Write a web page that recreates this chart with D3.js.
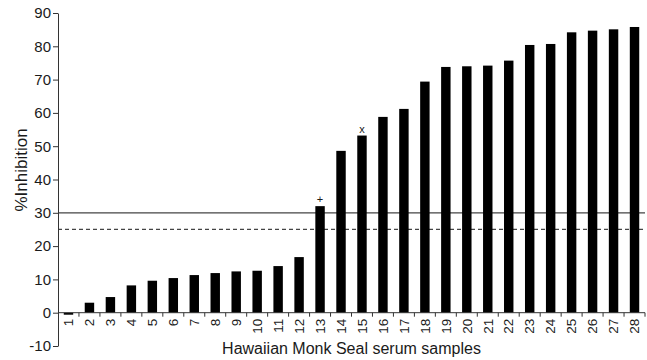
<!DOCTYPE html>
<html>
<head>
<meta charset="utf-8">
<script src="https://cdn.jsdelivr.net/npm/d3@7"></script>
<style>
  body { margin: 0; background: #fff; }
  text { font-family: "Liberation Sans", Arial, Helvetica, sans-serif; fill: #1a1a1a; }
</style>
</head>
<body>
<div id="chart"></div>
<script>
const [svgWidth, svgHeight] = [647, 360];

// data
const samples = d3.range(1, 29);
const inhibition = [-0.6, 3, 4.7, 8.2, 9.6, 10.4, 11.3, 11.9, 12.4, 12.6, 14, 16.7, 32, 48.6,
    53.2, 58.8, 61.2, 69.4, 73.8, 74, 74.2, 75.7, 80.4, 80.7, 84.2, 84.7, 85.1, 85.8];
const yTicks = d3.range(-10, 91, 10);
const thresholds = [
    { value: 30, dash: null },
    { value: 25, dash: '4,3' }
];
const markers = [
    { sample: 13, symbol: '+' },
    { sample: 15, symbol: 'x' }
];

const plot = { left: 58, right: 645, top: 13, bottom: 346 };

let svg = d3.select('#chart').append('svg')
    .attr('width', svgWidth)
    .attr('height', svgHeight);

let xScale = d3.scaleBand()
    .domain(samples)
    .range([plot.left, plot.right])
    .paddingInner(0.55)
    .paddingOuter(0.275);
let yScale = d3.scaleLinear()
    .domain([-10, 90])
    .range([plot.bottom, plot.top]);

const gap = xScale.step() - xScale.bandwidth();

// threshold lines
svg.selectAll('.threshold')
    .data(thresholds)
    .enter().append('line')
    .attr('x1', plot.left)
    .attr('x2', plot.right)
    .attr('y1', d => yScale(d.value))
    .attr('y2', d => yScale(d.value))
    .attr('stroke', '#444')
    .attr('stroke-width', 1.2)
    .attr('stroke-dasharray', d => d.dash);

// bars
svg.selectAll('.bar')
    .data(inhibition)
    .enter().append('rect')
    .attr('class', 'bar')
    .attr('x', (d, i) => xScale(samples[i]))
    .attr('width', xScale.bandwidth())
    .attr('y', d => yScale(Math.max(0, d)))
    .attr('height', d => Math.abs(yScale(d) - yScale(0)))
    .attr('fill', '#000');

// markers above bars
svg.selectAll('.marker')
    .data(markers)
    .enter().append('text')
    .attr('x', d => xScale(d.sample) + xScale.bandwidth() / 2)
    .attr('y', d => yScale(inhibition[d.sample - 1]) - 3)
    .attr('text-anchor', 'middle')
    .style('font-size', '11px')
    .text(d => d.symbol);

// y axis
let yAxis = svg.append('g')
    .attr('transform', 'translate(' + plot.left + ',0)')
    .call(d3.axisLeft(yScale).tickValues(yTicks).tickFormat(d => String(d))
        .tickSize(5).tickSizeOuter(0).tickPadding(2));
yAxis.select('.domain').attr('stroke', '#333');
yAxis.selectAll('.tick line').attr('stroke', '#333');
yAxis.selectAll('.tick text')
    .style('font-size', '15px')
    .attr('fill', '#1a1a1a');

// x axis at zero
let xAxis = svg.append('g')
    .attr('transform', 'translate(0,' + yScale(0) + ')');
xAxis.append('line')
    .attr('x1', plot.left).attr('x2', plot.right)
    .attr('stroke', '#333');
xAxis.selectAll('.xtick')
    .data(samples)
    .enter().append('line')
    .attr('x1', d => xScale(d) + xScale.bandwidth() + gap / 2)
    .attr('x2', d => xScale(d) + xScale.bandwidth() + gap / 2)
    .attr('y1', 0).attr('y2', 4)
    .attr('stroke', '#333');
xAxis.selectAll('.xlabel')
    .data(samples)
    .enter().append('text')
    .attr('transform', d => 'translate(' + (xScale(d) + xScale.bandwidth() / 2) + ',6) rotate(-90)')
    .attr('dy', '0.35em')
    .attr('text-anchor', 'end')
    .style('font-size', '13.5px')
    .text(d => d);

// titles
svg.append('text')
    .attr('x', (plot.left + plot.right) / 2)
    .attr('y', 354)
    .attr('text-anchor', 'middle')
    .style('font-size', '16px')
    .text('Hawaiian Monk Seal serum samples');

svg.append('text')
    .attr('transform', 'translate(27,170) rotate(-90)')
    .attr('text-anchor', 'middle')
    .style('font-size', '17px')
    .text('%Inhibition');
</script>
</body>
</html>
